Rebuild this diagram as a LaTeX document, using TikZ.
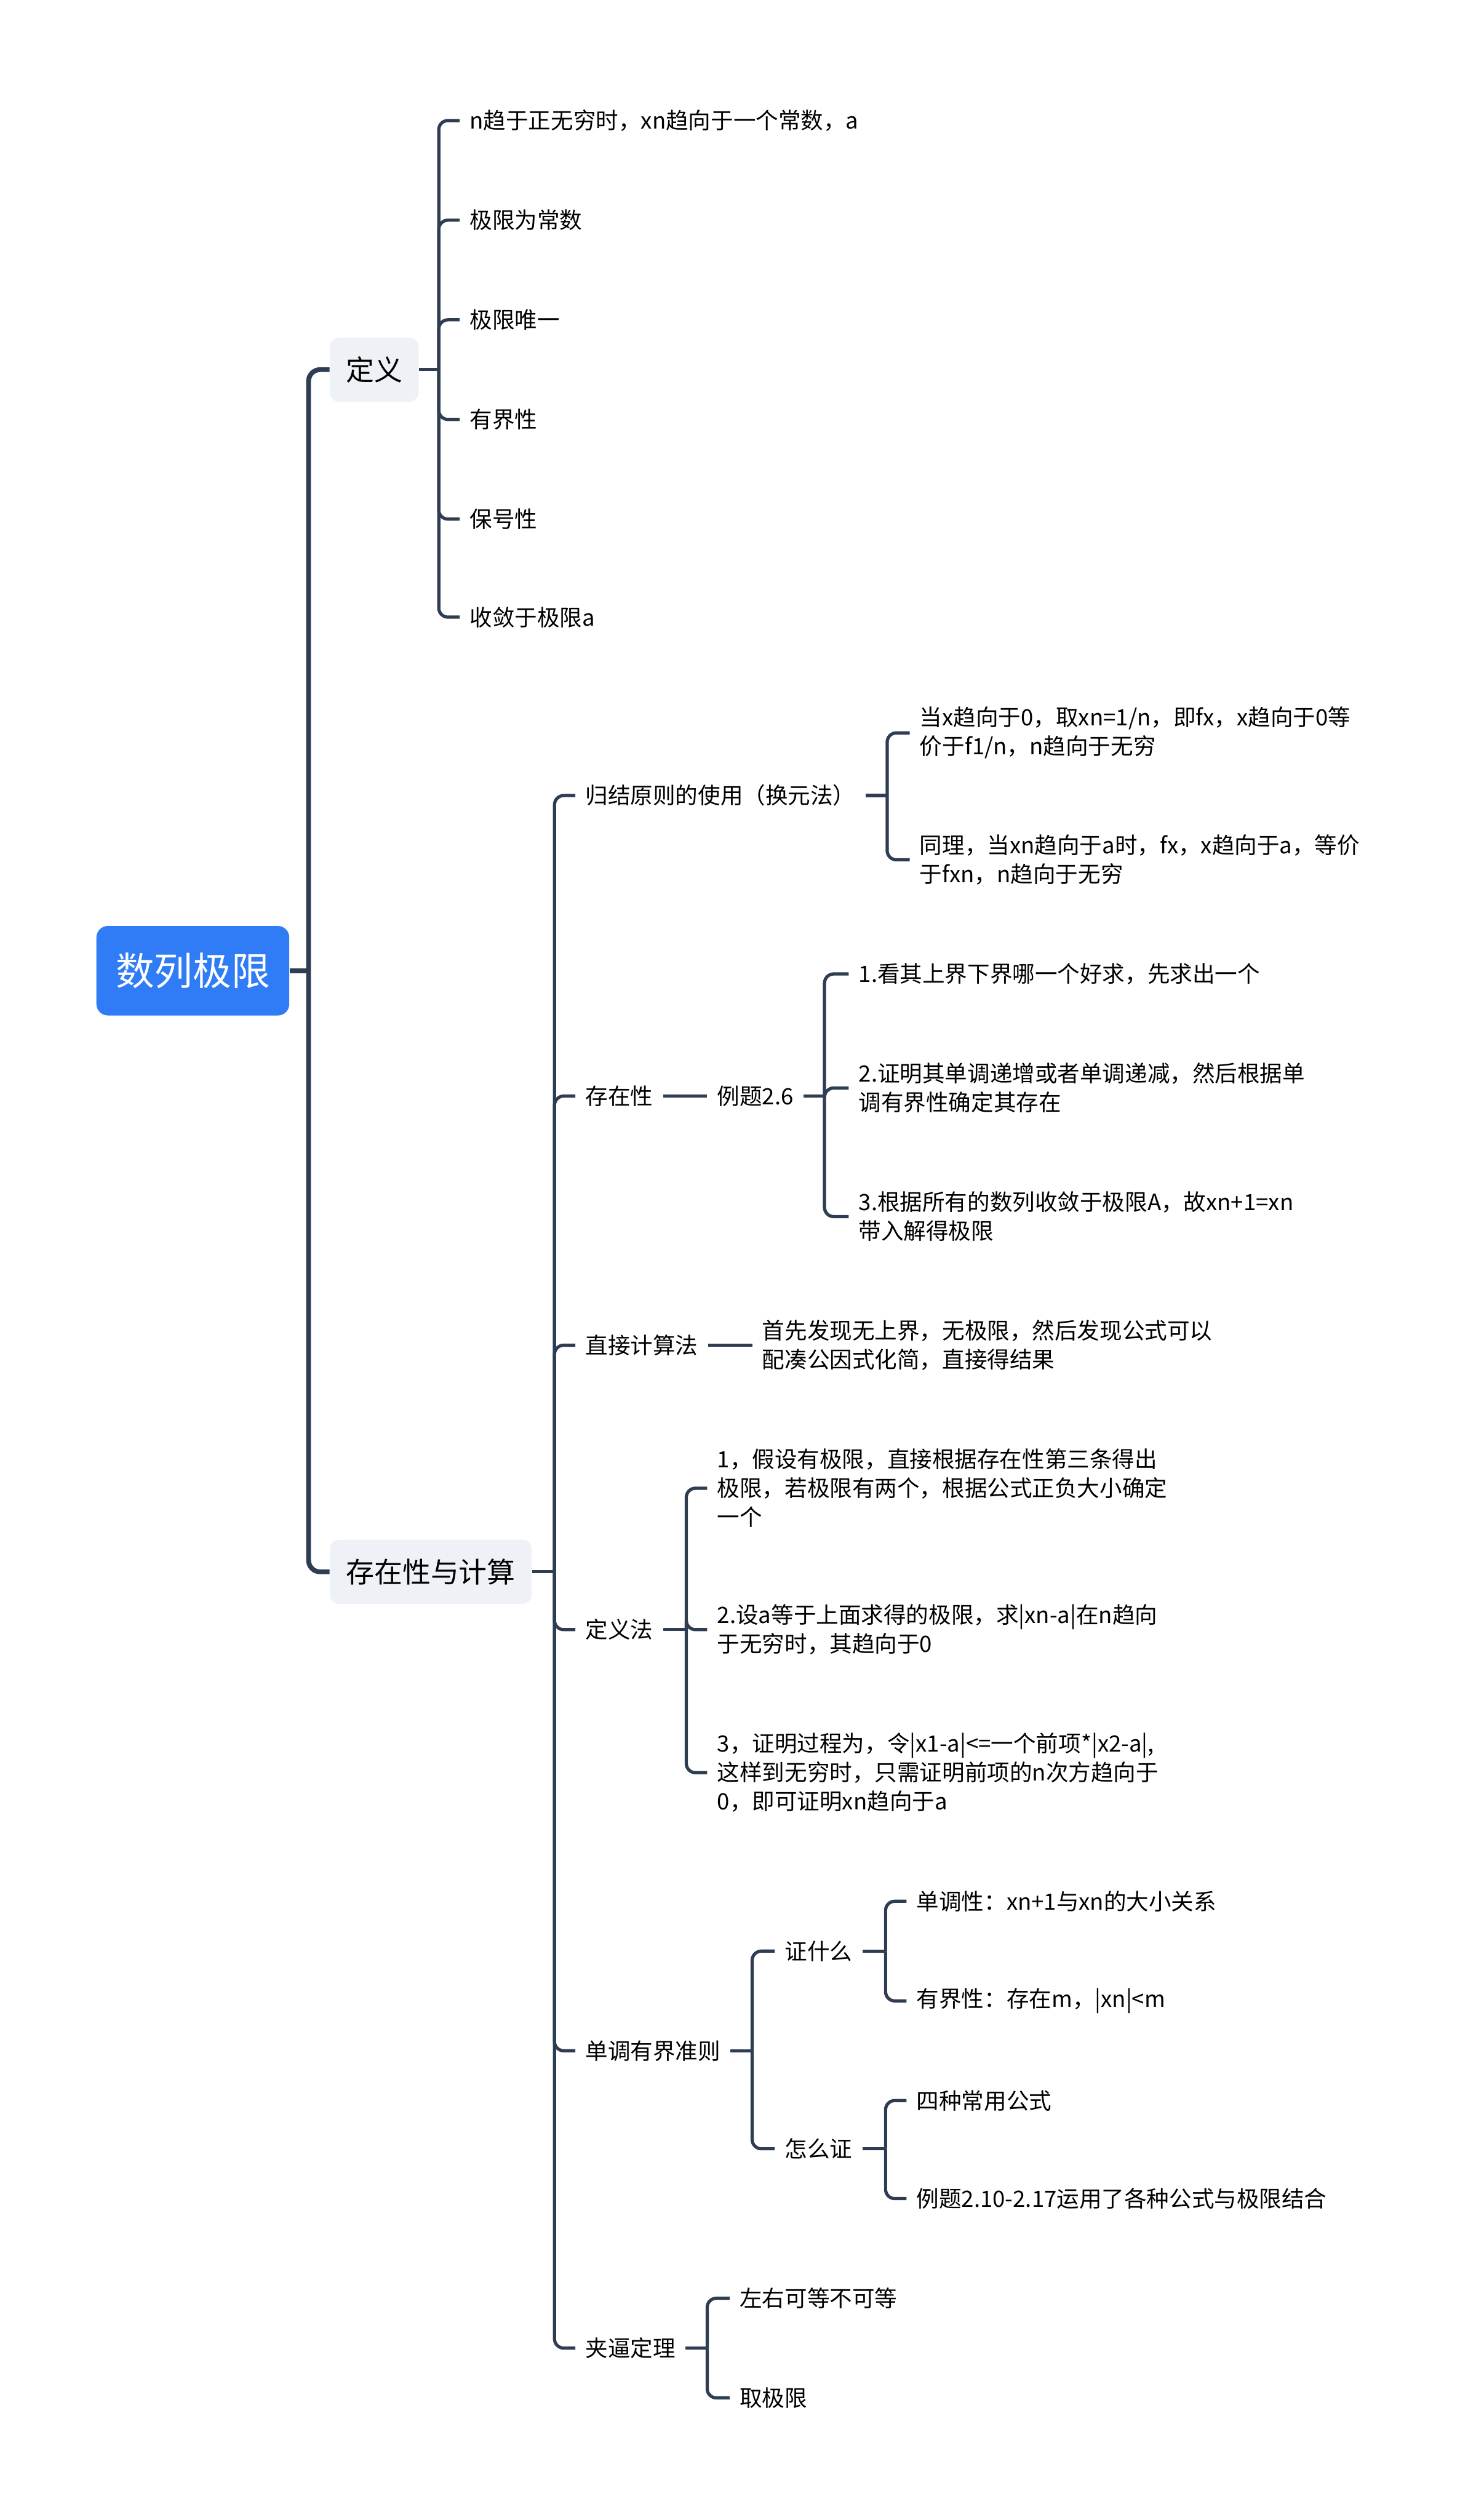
\documentclass[tikz,border=0pt]{standalone}
\usepackage{fontspec}
\setmainfont{Noto Sans CJK SC}
\usepackage{tikz}
\usetikzlibrary{calc}
\definecolor{linecol}{RGB}{46,61,82}
\definecolor{rootblue}{RGB}{47,124,246}
\definecolor{topicgray}{RGB}{238,241,245}
\tikzset{
  leaf/.style={anchor=west, inner xsep=4.2pt, inner ysep=2pt, align=left,
    font=\fontsize{9.8}{12.6}\selectfont},
  topic/.style={anchor=west, fill=topicgray, rounded corners=4pt,
    minimum height=28pt, inner xsep=7pt, font=\fontsize{12.3}{14}\selectfont},
  root/.style={fill=rootblue, text=white, rounded corners=5pt, minimum width=84pt,
    minimum height=39pt, font=\fontsize{16.8}{18}\selectfont},
  branch/.style={draw=linecol, line width=1.4pt, rounded corners=4pt},
  trunk/.style={branch, line width=2.1pt, rounded corners=5pt},
}
\newcommand{\drawbranch}{\draw[branch]}

\begin{document}
\begin{tikzpicture}[x=0.7pt,y=-0.7pt]
    \useasboundingbox (0,0) rectangle (918,1568);

    % Root and main topics
    \node[root] (root) at (120,604) {数列极限};
    \node[topic] (def) at (205,230) {定义};
    \node[topic] (exist) at (205,978) {存在性与计算};

    \coordinate (rootj) at (192,604);
    \draw[trunk] (root.east) -- (rootj);
    \draw[trunk] (rootj) |- (def.west);
    \draw[trunk] (rootj) |- (exist.west);

    % Definition
    \node[leaf] (d1) at (286,75) {n趋于正无穷时，xn趋向于一个常数，a};
    \node[leaf] (d2) at (286,137) {极限为常数};
    \node[leaf] (d3) at (286,199) {极限唯一};
    \node[leaf] (d4) at (286,261) {有界性};
    \node[leaf] (d5) at (286,323) {保号性};
    \node[leaf] (d6) at (286,384) {收敛于极限a};

    \coordinate (defj) at (273,230);
    \drawbranch (def.east) -- (defj);
    \foreach \n in {d1,d2,d3,d4,d5,d6} {
        \drawbranch (defj) |- (\n.west);
    }

    % Existence and computation
    \node[leaf] (e1) at (358,495) {归结原则的使用（换元法）};
    \node[leaf] (e2) at (358,682) {存在性};
    \node[leaf] (e3) at (358,837) {直接计算法};
    \node[leaf] (e4) at (358,1014) {定义法};
    \node[leaf] (e5) at (358,1276) {单调有界准则};
    \node[leaf] (e6) at (358,1461) {夹逼定理};

    \coordinate (existj) at (345,978);
    \drawbranch (exist.east) -- (existj);
    \foreach \n in {e1,e2,e3,e4,e5,e6} {
        \drawbranch (existj) |- (\n.west);
    }

    % Reduction principle
    \node[leaf] (g1) at (566,456) {当x趋向于0，取xn=1/n，即fx，x趋向于0等\\价于f1/n，n趋向于无穷};
    \node[leaf] (g2) at (566,535) {同理，当xn趋向于a时，fx，x趋向于a，等价\\于fxn，n趋向于无穷};

    \coordinate (e1j) at (552,495);
    \drawbranch (e1.east) -- (e1j);
    \drawbranch (e1j) |- (g1.west);
    \drawbranch (e1j) |- (g2.west);

    % Existence
    \node[leaf] (ex) at (440,682) {例题2.6};
    \drawbranch (e2.east) -- (ex.west);

    \node[leaf] (l1) at (528,606) {1.看其上界下界哪一个好求，先求出一个};
    \node[leaf] (l2) at (528,677) {2.证明其单调递增或者单调递减，然后根据单\\调有界性确定其存在};
    \node[leaf] (l3) at (528,757) {3.根据所有的数列收敛于极限A，故xn+1=xn\\带入解得极限};

    \coordinate (exj) at (513,682);
    \drawbranch (ex.east) -- (exj);
    \foreach \n in {l1,l2,l3} {
        \drawbranch (exj) |- (\n.west);
    }

    % Direct computation
    \node[leaf] (c1) at (468,837) {首先发现无上界，无极限，然后发现公式可以\\配凑公因式化简，直接得结果};
    \drawbranch (e3.east) -- (c1.west);

    % Definition method
    \node[leaf] (f1) at (440,926) {1，假设有极限，直接根据存在性第三条得出\\极限，若极限有两个，根据公式正负大小确定\\一个};
    \node[leaf] (f2) at (440,1014) {2.设a等于上面求得的极限，求|xn-a|在n趋向\\于无穷时，其趋向于0};
    \node[leaf] (f3) at (440,1103) {3，证明过程为，令|x1-a|<=一个前项*|x2-a|,\\这样到无穷时，只需证明前项的n次方趋向于\\0，即可证明xn趋向于a};

    \coordinate (e4j) at (427,1014);
    \drawbranch (e4.east) -- (e4j);
    \foreach \n in {f1,f2,f3} {
        \drawbranch (e4j) |- (\n.west);
    }

    % Monotone bounded
    \node[leaf] (m1) at (482,1214) {证什么};
    \node[leaf] (m2) at (482,1337) {怎么证};

    \coordinate (e5j) at (468,1276);
    \drawbranch (e5.east) -- (e5j);
    \drawbranch (e5j) |- (m1.west);
    \drawbranch (e5j) |- (m2.west);

    \node[leaf] (w1) at (564,1183) {单调性：xn+1与xn的大小关系};
    \node[leaf] (w2) at (564,1245) {有界性：存在m，|xn|<m};
    \node[leaf] (h1) at (564,1307) {四种常用公式};
    \node[leaf] (h2) at (564,1368) {例题2.10-2.17运用了各种公式与极限结合};

    \coordinate (m1j) at (551,1214);
    \coordinate (m2j) at (551,1337);
    \drawbranch (m1.east) -- (m1j);
    \drawbranch (m1j) |- (w1.west);
    \drawbranch (m1j) |- (w2.west);
    \drawbranch (m2.east) -- (m2j);
    \drawbranch (m2j) |- (h1.west);
    \drawbranch (m2j) |- (h2.west);

    % Squeeze theorem
    \node[leaf] (j1) at (454,1430) {左右可等不可等};
    \node[leaf] (j2) at (454,1492) {取极限};

    \coordinate (e6j) at (440,1461);
    \drawbranch (e6.east) -- (e6j);
    \drawbranch (e6j) |- (j1.west);
    \drawbranch (e6j) |- (j2.west);
\end{tikzpicture}
\end{document}
